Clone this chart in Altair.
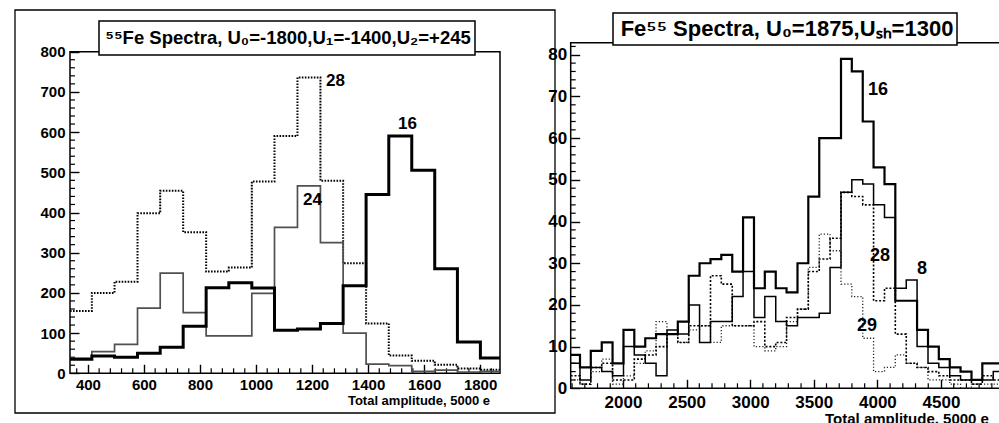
import altair as alt
import pandas as pd

# ---------------- left panel (55Fe, U0=-1800) ----------------
L_edges = [336, 414, 495, 577, 658, 740, 822, 903, 985, 1066, 1148, 1230,
           1311, 1393, 1474, 1556, 1638, 1719, 1801, 1871]
L_16 = [35, 43, 40, 50, 65, 117, 213, 225, 212, 107, 110, 124, 218, 445, 590, 505, 260, 78, 38]
L_24 = [37, 54, 72, 162, 249, 151, 93, 93, 199, 363, 466, 325, 100, 23, 19, 5, 8, 3, 5]
L_28 = [155, 200, 228, 398, 454, 351, 253, 263, 477, 590, 736, 479, 274, 124, 44, 31, 21, 12, 9]
L_xticks = [400, 600, 800, 1000, 1200, 1400, 1600, 1800]
L_yticks = [0, 100, 200, 300, 400, 500, 600, 700, 800]
L_lab_text = ["28", "24", "16"]
L_lab_x = [1250, 1168, 1507]
L_lab_y = [727, 431, 620]
L_title = "\u2075\u2075Fe Spectra, U\u2080=-1800,U\u2081=-1400,U\u2082=+245"

# ---------------- right panel (Fe55, U0=1875) ----------------
R_edges = [1589, 1662, 1747, 1833, 1918, 2004, 2089, 2175, 2260, 2346, 2431, 2517,
           2602, 2688, 2773, 2859, 2944, 3030, 3115, 3201, 3286, 3372, 3457, 3543,
           3628, 3714, 3799, 3885, 3970, 4056, 4141, 4227, 4312, 4398, 4483, 4569,
           4654, 4740, 4825, 4911, 4964]
R_16 = [8, 5, 9, 11, 6, 14, 10, 12, 13, 13, 16, 27, 30, 31, 32, 28, 41, 24, 28, 24,
        23, 30, 46, 60, 60, 79, 76, 64, 53, 49, 21, 21, 14, 10, 7, 5, 4, 2, 6, 6]
R_8 = [6, 2, 5, 4, 3, 10, 8, 6, 3, 14, 13, 20, 11, 16, 16, 22, 28, 17, 22, 16,
       15, 17, 17, 18, 29, 47, 50, 49, 44, 41, 24, 26, 10, 6, 5, 3, 2, 2, 2, 4]
R_28 = [3, 1, 5, 6, 2, 2, 7, 8, 10, 13, 11, 15, 15, 27, 25, 15, 15, 16, 10, 11,
        17, 19, 28, 31, 36, 47, 46, 44, 21, 24, 13, 6, 5, 4, 3, 2, 2, 1, 3, 2]
R_29 = [2, 1, 4, 7, 1, 3, 6, 9, 16, 13, 11, 14, 15, 11, 15, 15, 15, 10, 9, 10,
        16, 19, 29, 37, 33, 25, 22, 12, 4, 5, 8, 6, 5, 2, 2, 1, 0, 1, 1, 1]
R_xticks = [2000, 2500, 3000, 3500, 4000, 4500]
R_yticks = [0, 10, 20, 30, 40, 50, 60, 70, 80]
R_lab_text = ["16", "28", "8", "29"]
R_lab_x = [3926, 3942, 4311, 3840]
R_lab_y = [71.6, 31.8, 28.7, 15]
R_title = "Fe\u2075\u2075 Spectra, U\u2080=1875,U\u209b\u2095=1300"

XTITLE = "Total amplitude, 5000 e"
FONT = "Liberation Sans"
W, H = 999, 423


def steps(edges, vals):
    rows = [{"x": edges[i], "y": v} for i, v in enumerate(vals)]
    rows.append({"x": edges[len(vals)], "y": vals[-1]})
    return pd.DataFrame(rows)


def one():
    return pd.DataFrame({"a": [0]})


def panel(edges, series, xticks, yticks, xminor, yminor, lab_t, lab_x, lab_y,
          xdom, xrng, ydom, yrng, lab_size, tick_size, lab_pad_x, lab_pad_y,
          major_len, minor_len):
    xs = alt.Scale(domain=xdom, range=xrng, nice=False, zero=False)
    ys = alt.Scale(domain=ydom, range=yrng, nice=False, zero=False)
    common = dict(grid=False, domain=False, tickColor="black", tickWidth=1.4,
                  labelFont=FONT, labelFontWeight="bold", labelColor="black",
                  labelFontSize=tick_size, format="d",
                  labelOverlap=False, labelFlush=False, title=None)
    xa = alt.Axis(orient="bottom", offset=(yrng[0] - major_len) - H, values=xticks,
                  tickSize=major_len, labelPadding=lab_pad_x, **common)
    ya = alt.Axis(orient="left", offset=-(xrng[0] + major_len), values=yticks,
                  tickSize=major_len, labelPadding=lab_pad_y, **common)
    X = lambda f="x": alt.X(f"{f}:Q", scale=xs, axis=xa)
    Y = lambda f="y": alt.Y(f"{f}:Q", scale=ys, axis=ya)

    layers = []
    fr = pd.DataFrame({"x": [xdom[0]], "x2": [xdom[1]], "y": [ydom[0]], "y2": [ydom[1]]})
    layers.append(alt.Chart(fr).mark_rect(fillOpacity=0, stroke="black", strokeWidth=1.5)
                  .encode(x=X(), x2="x2:Q", y=Y(), y2="y2:Q"))
    mx = pd.DataFrame({"x": xminor})
    layers.append(alt.Chart(mx).mark_rule(color="black", strokeWidth=1.2)
                  .encode(x=X(), y=alt.value(yrng[0]), y2=alt.value(yrng[0] - minor_len)))
    my = pd.DataFrame({"y": yminor})
    layers.append(alt.Chart(my).mark_rule(color="black", strokeWidth=1.2)
                  .encode(y=Y(), x=alt.value(xrng[0]), x2=alt.value(xrng[0] + minor_len)))
    for vals, style in series:
        layers.append(alt.Chart(steps(edges, vals))
                      .mark_line(interpolate="step-after", **style)
                      .encode(x=X(), y=Y()))
    lab = pd.DataFrame({"t": lab_t, "x": lab_x, "y": lab_y})
    layers.append(alt.Chart(lab).mark_text(font=FONT, fontWeight="bold", fontSize=lab_size,
                                           align="left", baseline="middle", color="black")
                  .encode(x=X(), y=Y(), text="t:N"))
    return layers


L_series = [
    (L_28, dict(color="black", strokeWidth=2.0, strokeDash=[1.6, 1.4])),
    (L_24, dict(color="#505050", strokeWidth=1.7)),
    (L_16, dict(color="black", strokeWidth=3.0)),
]
R_series = [
    (R_29, dict(color="#222222", strokeWidth=1.3, strokeDash=[1.2, 2.0])),
    (R_28, dict(color="black", strokeWidth=1.6, strokeDash=[2.0, 1.8])),
    (R_8, dict(color="black", strokeWidth=1.5)),
    (R_16, dict(color="black", strokeWidth=2.2)),
]

L_xminor = [v for v in range(360, 1880, 40) if v % 200 != 0]
L_yminor = [v for v in range(0, 801, 20) if v % 100 != 0]
R_xminor = [v for v in range(1600, 4970, 100) if v % 500 != 0]
R_yminor = [v for v in range(0, 83, 2) if v % 10 != 0]

left_layers = panel(L_edges, L_series, L_xticks, L_yticks, L_xminor, L_yminor,
                    L_lab_text, L_lab_x, L_lab_y,
                    [336, 1871], [70, 500], [0, 800], [373.3, 51.7],
                    17, 15, 4, 5, 9, 5)
right_layers = panel(R_edges, R_series, R_xticks, R_yticks, R_xminor, R_yminor,
                     R_lab_text, R_lab_x, R_lab_y,
                     [1589, 4964], [570.7, 1000], [0, 82.9], [388.3, 42.7],
                     18, 17, 6, 4, 9, 5)

deco = [
    alt.Chart(one()).mark_rect(fillOpacity=0, stroke="black", strokeWidth=1.3)
    .encode(x=alt.value(15), x2=alt.value(555), y=alt.value(10), y2=alt.value(413)),
    alt.Chart(one()).mark_rect(fill="white", stroke="black", strokeWidth=1.5)
    .encode(x=alt.value(99), x2=alt.value(475), y=alt.value(21), y2=alt.value(55)),
    alt.Chart(one()).mark_text(text=L_title, font=FONT, fontWeight="bold", fontSize=18.5,
                               align="center", baseline="middle", color="black")
    .encode(x=alt.value(288), y=alt.value(38)),
    alt.Chart(one()).mark_text(text=XTITLE, font=FONT, fontWeight="bold", fontSize=13,
                               align="right", baseline="middle", color="black")
    .encode(x=alt.value(490), y=alt.value(401)),
]
deco_r = [
    alt.Chart(one()).mark_rect(fill="white", stroke="black", strokeWidth=1.5)
    .encode(x=alt.value(613), x2=alt.value(957), y=alt.value(13), y2=alt.value(45)),
    alt.Chart(one()).mark_text(text=R_title, font=FONT, fontWeight="bold", fontSize=22,
                               align="center", baseline="middle", color="black")
    .encode(x=alt.value(787), y=alt.value(29)),
    alt.Chart(one()).mark_text(text=XTITLE, font=FONT, fontWeight="bold", fontSize=15,
                               align="left", baseline="middle", color="black")
    .encode(x=alt.value(825), y=alt.value(419)),
]

left = alt.layer(*(left_layers + deco))
right = alt.layer(*(right_layers + deco_r))

chart = (
    alt.layer(left, right)
    .resolve_scale(x="independent", y="independent")
    .properties(width=W, height=H, autosize="none", padding=0, background="white")
    .configure_view(stroke=None)
    .configure_axis(labelFont=FONT, labelFontWeight="bold", labelColor="black",
                    tickColor="black", grid=False)
)

chart.save("out.html", embed_options={"renderer": "svg", "actions": False})
